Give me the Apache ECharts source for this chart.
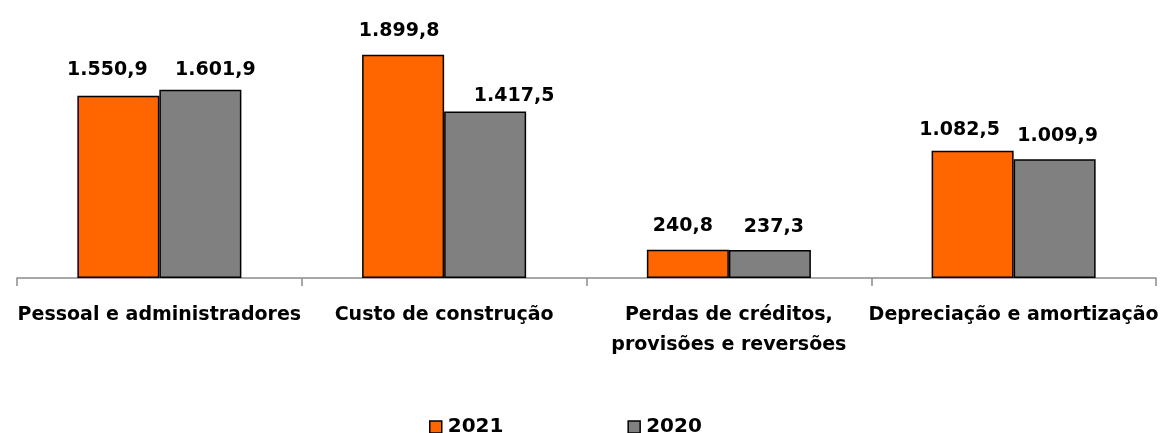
<!DOCTYPE html>
<html>
<head>
<meta charset="utf-8">
<script src="https://cdn.jsdelivr.net/npm/echarts@6/dist/echarts.min.js"></script>
<style>
  html, body { margin: 0; padding: 0; background: #fff; }
  #main { width: 1162px; height: 433px; }
</style>
</head>
<body>
<div id="main"></div>
<script>
var categories = [
    'Pessoal e administradores',
    'Custo de construção',
    'Perdas de créditos,\nprovisões e reversões',
    'Depreciação e amortização'
];
var seriesNames = ['2021', '2020'];
var values2021 = [1550.9, 1899.8, 240.8, 1082.5];
var values2020 = [1601.9, 1417.5, 237.3, 1009.9];

// label nudges [dx, dy] so the numbers sit where the original places them
var labelShift2021 = [[-11, -10], [-4, -8], [-5, -8], [-13, -5]];
var labelShift2020 = [[15, -4], [29, 0], [4, -8], [3, -8]];

function fmtBR(v) {
    let parts = v.toFixed(1).split('.');
    let intPart = parts[0].replace(/\B(?=(\d{3})+(?!\d))/g, '.');
    return intPart + ',' + parts[1];
}

function withShift(values, shifts) {
    return values.map(function (v, i) {
        return { value: v, label: { offset: shifts[i] } };
    });
}

var chartDom = document.getElementById('main');
var myChart = echarts.init(chartDom);
var option;

var labelStyle = {
    show: true,
    position: 'top',
    distance: 6,
    color: '#000',
    fontFamily: 'DejaVu Sans',
    fontWeight: 'bold',
    fontSize: 19,
    formatter: function (p) { return fmtBR(p.value); }
};

option = {
    animation: false,
    backgroundColor: '#fff',
    grid: {
        left: 17,
        right: 6,
        top: 43,
        bottom: 155
    },
    legend: {
        data: seriesNames,
        left: 429,
        top: 417,
        padding: 0,
        itemWidth: 12,
        itemHeight: 12,
        itemGap: 124,
        icon: 'rect',
        itemStyle: { borderColor: '#000', borderWidth: 1.5 },
        textStyle: {
            color: '#000',
            fontFamily: 'DejaVu Sans',
            fontWeight: 'bold',
            fontSize: 20,
            padding: [0, 0, 0, 1]
        }
    },
    xAxis: {
        type: 'category',
        data: categories,
        axisLine: { lineStyle: { color: '#8c8c8c', width: 1.5 } },
        axisTick: { show: true, length: 8, lineStyle: { color: '#8c8c8c', width: 1.5 } },
        axisLabel: {
            interval: 0,
            margin: 22,
            color: '#000',
            fontFamily: 'DejaVu Sans',
            fontWeight: 'bold',
            fontSize: 19,
            lineHeight: 30
        }
    },
    yAxis: {
        type: 'value',
        min: 0,
        max: 2000,
        show: false,
        splitLine: { show: false }
    },
    series: [
        {
            name: seriesNames[0],
            type: 'bar',
            barGap: '0%',
            barCategoryGap: '42.4%',
            data: withShift(values2021, labelShift2021),
            itemStyle: { color: '#FF6600', borderColor: '#000', borderWidth: 1.5 },
            label: labelStyle
        },
        {
            name: seriesNames[1],
            type: 'bar',
            barGap: '0%',
            barCategoryGap: '42.4%',
            data: withShift(values2020, labelShift2020),
            itemStyle: { color: '#808080', borderColor: '#000', borderWidth: 1.5 },
            label: labelStyle
        }
    ]
};

option && myChart.setOption(option);
</script>
</body>
</html>
